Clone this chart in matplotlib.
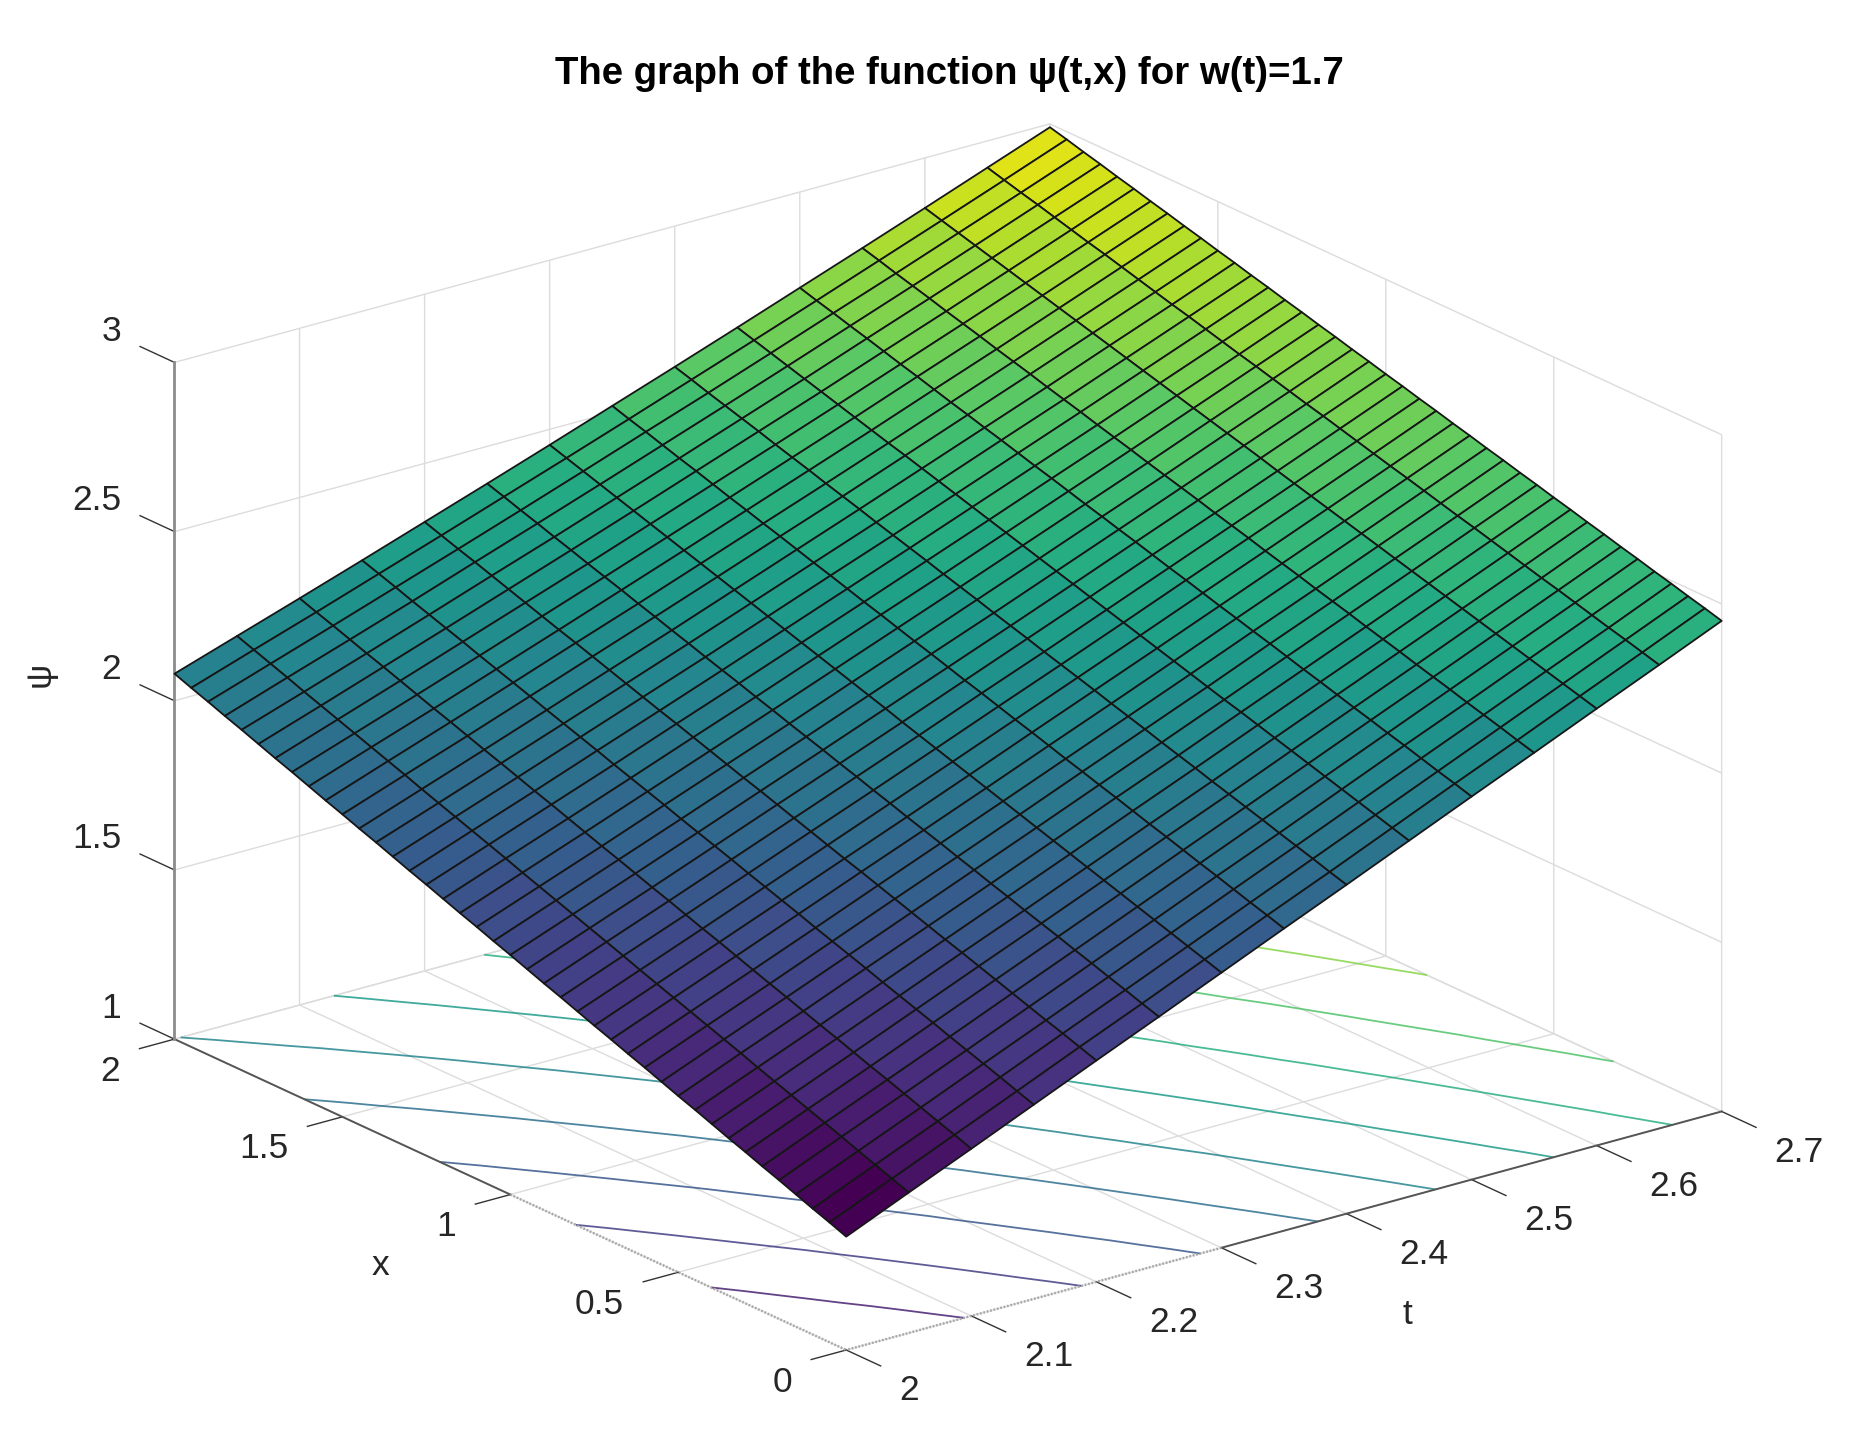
import numpy as np
import matplotlib
matplotlib.use("Agg")
import matplotlib.pyplot as plt
from matplotlib.colors import Normalize

t_values = [2.0,2.05,2.1,2.15,2.2,2.25,2.3,2.35,2.4,2.45,2.5,2.55,2.6,2.65,2.7]
x_values = [0.0,0.05,0.1,0.15,0.2,0.25,0.3,0.35,0.4,0.45,0.5,0.55,0.6,0.65,0.7,0.75,0.8,0.85,0.9,0.95,1.0,
            1.05,1.1,1.15,1.2,1.25,1.3,1.35,1.4,1.45,1.5,1.55,1.6,1.65,1.7,1.75,1.8,1.85,1.9,1.95,2.0]
psi_rows = [
 [1.335,1.354,1.372,1.391,1.410,1.428,1.447,1.465,1.484,1.503,1.521,1.540,1.559,1.577,1.596,1.614,1.633,1.652,1.670,1.689,1.708,1.726,1.745,1.763,1.782,1.801,1.819,1.838,1.857,1.875,1.894,1.912,1.931,1.950,1.968,1.987,2.006,2.024,2.043,2.061,2.080],
 [1.415,1.433,1.451,1.469,1.488,1.506,1.524,1.542,1.560,1.578,1.597,1.615,1.633,1.651,1.669,1.687,1.705,1.724,1.742,1.760,1.778,1.796,1.814,1.832,1.851,1.869,1.887,1.905,1.923,1.941,1.960,1.978,1.996,2.014,2.032,2.050,2.068,2.087,2.105,2.123,2.141],
 [1.494,1.512,1.529,1.547,1.565,1.583,1.600,1.618,1.636,1.653,1.671,1.689,1.706,1.724,1.742,1.760,1.777,1.795,1.813,1.830,1.848,1.866,1.883,1.901,1.919,1.937,1.954,1.972,1.990,2.007,2.025,2.043,2.060,2.078,2.096,2.114,2.131,2.149,2.167,2.184,2.202],
 [1.574,1.591,1.609,1.626,1.643,1.660,1.678,1.695,1.712,1.729,1.747,1.764,1.781,1.798,1.816,1.833,1.850,1.867,1.885,1.902,1.919,1.936,1.954,1.971,1.988,2.005,2.023,2.040,2.057,2.074,2.092,2.109,2.126,2.143,2.161,2.178,2.195,2.212,2.230,2.247,2.264],
 [1.654,1.671,1.688,1.704,1.721,1.738,1.755,1.772,1.789,1.805,1.822,1.839,1.856,1.873,1.890,1.906,1.923,1.940,1.957,1.974,1.991,2.007,2.024,2.041,2.058,2.075,2.091,2.108,2.125,2.142,2.159,2.176,2.192,2.209,2.226,2.243,2.260,2.277,2.293,2.310,2.327],
 [1.733,1.749,1.766,1.782,1.799,1.815,1.832,1.848,1.864,1.881,1.897,1.914,1.930,1.947,1.963,1.979,1.996,2.012,2.029,2.045,2.062,2.078,2.094,2.111,2.127,2.144,2.160,2.176,2.193,2.209,2.226,2.242,2.259,2.275,2.291,2.308,2.324,2.341,2.357,2.374,2.390],
 [1.813,1.829,1.845,1.861,1.877,1.893,1.909,1.925,1.941,1.957,1.973,1.989,2.005,2.021,2.037,2.053,2.069,2.085,2.101,2.117,2.134,2.150,2.166,2.182,2.198,2.214,2.230,2.246,2.262,2.278,2.294,2.310,2.326,2.342,2.358,2.374,2.390,2.406,2.422,2.438,2.454],
 [1.893,1.909,1.924,1.940,1.956,1.971,1.987,2.003,2.018,2.034,2.050,2.065,2.081,2.096,2.112,2.128,2.143,2.159,2.175,2.190,2.206,2.222,2.237,2.253,2.269,2.284,2.300,2.316,2.331,2.347,2.363,2.378,2.394,2.409,2.425,2.441,2.456,2.472,2.488,2.503,2.519],
 [1.972,1.987,2.003,2.018,2.033,2.049,2.064,2.079,2.094,2.110,2.125,2.140,2.156,2.171,2.186,2.202,2.217,2.232,2.247,2.263,2.278,2.293,2.309,2.324,2.339,2.355,2.370,2.385,2.400,2.416,2.431,2.446,2.462,2.477,2.492,2.508,2.523,2.538,2.553,2.569,2.584],
 [2.052,2.067,2.082,2.097,2.112,2.127,2.142,2.157,2.172,2.187,2.202,2.216,2.231,2.246,2.261,2.276,2.291,2.306,2.321,2.336,2.351,2.366,2.381,2.396,2.411,2.426,2.441,2.456,2.471,2.486,2.501,2.515,2.530,2.545,2.560,2.575,2.590,2.605,2.620,2.635,2.650],
 [2.132,2.147,2.161,2.176,2.191,2.205,2.220,2.234,2.249,2.264,2.278,2.293,2.308,2.322,2.337,2.351,2.366,2.381,2.395,2.410,2.425,2.439,2.454,2.468,2.483,2.498,2.512,2.527,2.542,2.556,2.571,2.585,2.600,2.615,2.629,2.644,2.659,2.673,2.688,2.702,2.717],
 [2.211,2.225,2.240,2.254,2.268,2.283,2.297,2.311,2.326,2.340,2.354,2.369,2.383,2.397,2.412,2.426,2.440,2.455,2.469,2.483,2.498,2.512,2.526,2.540,2.555,2.569,2.583,2.598,2.612,2.626,2.641,2.655,2.669,2.684,2.698,2.712,2.727,2.741,2.755,2.770,2.784],
 [2.291,2.305,2.319,2.333,2.347,2.361,2.375,2.389,2.403,2.417,2.431,2.445,2.459,2.473,2.487,2.501,2.515,2.529,2.543,2.557,2.572,2.586,2.600,2.614,2.628,2.642,2.656,2.670,2.684,2.698,2.712,2.726,2.740,2.754,2.768,2.782,2.796,2.810,2.824,2.838,2.852],
 [2.370,2.384,2.398,2.411,2.425,2.439,2.453,2.466,2.480,2.494,2.508,2.522,2.535,2.549,2.563,2.577,2.590,2.604,2.618,2.632,2.646,2.659,2.673,2.687,2.701,2.714,2.728,2.742,2.756,2.769,2.783,2.797,2.811,2.825,2.838,2.852,2.866,2.880,2.893,2.907,2.921],
 [2.450,2.464,2.477,2.491,2.504,2.518,2.531,2.545,2.558,2.572,2.585,2.599,2.612,2.626,2.639,2.653,2.666,2.680,2.693,2.707,2.720,2.734,2.747,2.761,2.774,2.788,2.801,2.815,2.828,2.842,2.855,2.869,2.882,2.896,2.909,2.923,2.936,2.950,2.963,2.977,2.990],
]
contour_levels = [1.485,1.635,1.786,1.936,2.086,2.236,2.387,2.537,2.687,2.838]
t_ticks = [2,2.1,2.2,2.3,2.4,2.5,2.6,2.7]
t_labels = ['2','2.1','2.2','2.3','2.4','2.5','2.6','2.7']
x_ticks = [0,0.5,1,1.5,2]
x_labels = ['0','0.5','1','1.5','2']
z_ticks = [1,1.5,2,2.5,3]
z_labels = ['1','1.5','2','2.5','3']

plt.rcParams['font.family'] = ['Liberation Sans', 'DejaVu Sans']
W, H = 1852, 1456
fig = plt.figure(figsize=(W/100, H/100), dpi=100, facecolor='white')
S = 1670
ax = fig.add_axes([90.5/W, (1456-1594.5)/H, S/W, S/H], projection='3d', proj_type='ortho')
ax.set_box_aspect((1, 1, 0.656))
ax.view_init(elev=20.8, azim=-127.5)
ax.computed_zorder = False

T, X = np.meshgrid(t_values, x_values, indexing='ij')
Z = np.array(psi_rows)
cmap = plt.get_cmap('viridis', 64)
norm = Normalize(Z.min(), Z.max())

ax.contour(T, X, Z, levels=contour_levels, zdir='z', offset=1, cmap='viridis', norm=norm,
           linewidths=1.3, alpha=0.85, zorder=1)
surf = ax.plot_surface(T, X, Z, rstride=1, cstride=1, facecolors=cmap(norm(Z)), shade=False,
                       antialiased=True, zorder=3)
surf.set_edgecolor('#161616')
surf.set_linewidth(1.3)

GRID = '#dcdcdc'
ax.plot([2, 2], [2, 1], [1, 1], color='#555555', lw=1.4, zorder=2)
ax.plot([2, 2], [1, 0], [1, 1], color='#a8a8a8', lw=1.8, ls=(0, (0.7, 0.7)), zorder=2)
ax.plot([2.7, 2.3], [0, 0], [1, 1], color='#555555', lw=1.4, zorder=2)
ax.plot([2.3, 2], [0, 0], [1, 1], color='#a8a8a8', lw=1.8, ls=(0, (0.7, 0.7)), zorder=2)
ax.plot([2, 2], [2, 2], [1, 3], color='#8c8c8c', lw=2.0, zorder=2)

ax.set_xlim(2, 2.7, view_margin=0)
ax.set_ylim(0, 2, view_margin=0)
ax.set_zlim(1, 3, view_margin=0)
ax.set_xticks(t_ticks, t_labels)
ax.set_yticks(x_ticks, x_labels)
ax.set_zticks(z_ticks, z_labels)

TXT = '#262626'
FS = 25.5
ax.tick_params(axis='both', labelsize=FS, labelcolor=TXT, color='#333333')
ax.tick_params(axis='x', pad=14)
ax.tick_params(axis='y', pad=14)
ax.tick_params(axis='z', pad=14)
ax.zaxis.set_ticks_position('upper')
ax.zaxis.set_label_position('upper')
ax.zaxis._get_tickdir = lambda pos: 1

for axis in (ax.xaxis, ax.yaxis, ax.zaxis):
    axis.set_pane_color((1, 1, 1, 0))
    axis.pane.set_edgecolor('#c4c4c4')
    axis._axinfo['grid'].update(color=GRID, linewidth=1.0)
    axis._axinfo['tick']['linewidth'] = {True: 1.0, False: 0.7}
    axis.set_rotate_label(False)
ax.zaxis.pane.set_edgecolor('#b4b4b4')
ax.xaxis._axinfo['tick'].update(inward_factor=0.64, outward_factor=0.0)
ax.yaxis._axinfo['tick'].update(inward_factor=0.5, outward_factor=0.0)
ax.zaxis._axinfo['tick'].update(inward_factor=0.0, outward_factor=0.64)
ax.xaxis.line.set_color((0, 0, 0, 0))
ax.yaxis.line.set_color((0, 0, 0, 0))
ax.zaxis.line.set_color((0, 0, 0, 0))

ax.set_xlabel('t', fontsize=FS, color=TXT, labelpad=40, rotation=0)
ax.set_ylabel('x', fontsize=FS, color=TXT, labelpad=40, rotation=0)
ax.set_zlabel('ψ', fontsize=FS, color=TXT, labelpad=40, rotation=90)

# mplot3d recomputes text positions at draw time in projected view units: nudge them in pixels
PX = 0.185 / S
def nudge(text, dx_px, dy_px):
    original = text.draw
    def draw(renderer):
        x, y = text.get_position()
        text.set_position((x + dx_px * PX, y + dy_px * PX))
        original(renderer)
    text.draw = draw

for axis, ha, dx, dy in ((ax.xaxis, 'left', 29, 10.6), (ax.yaxis, 'right', -23.6, 16.5), (ax.zaxis, 'right', 1.2, 45)):
    for tick in axis.get_major_ticks():
        tick.label1.set_ha(ha)
        nudge(tick.label1, dx, dy)
nudge(ax.xaxis.label, 58, 12)
nudge(ax.yaxis.label, -45, 18)
nudge(ax.zaxis.label, 16.5, 19)

fig.suptitle('The graph of the function ψ(t,x) for w(t)=1.7', x=949/W, y=1-73.5/H, ha='center', va='center',
             fontsize=27.6, fontweight='bold', color='black')

fig.savefig('out.png', dpi=100)
